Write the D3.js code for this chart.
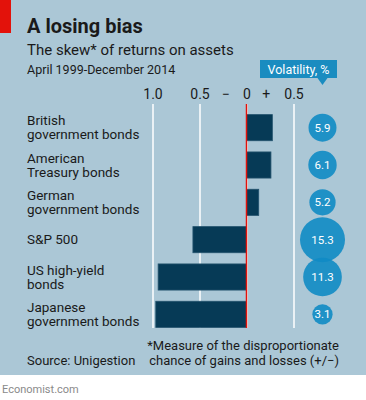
<!DOCTYPE html>
<html>
<head>
<meta charset="utf-8">
<script src="https://cdn.jsdelivr.net/npm/d3@7"></script>
<style>
    body { margin: 0; background: #fff; }
    text { font-family: Roboto, "Noto Sans", sans-serif; fill: #1a1a1a; }
</style>
</head>
<body>
<script>
// data
const assets = [
    ["British", "government bonds"],
    ["American", "Treasury bonds"],
    ["German", "government bonds"],
    ["S&P 500"],
    ["US high-yield", "bonds"],
    ["Japanese", "government bonds"]
];
const skew = [0.275, 0.26, 0.13, -0.57, -0.94, -0.965];
const volatility = [5.9, 6.1, 5.2, 15.3, 11.3, 3.1];
const skewTicks = [-1, -0.5, 0, 0.5];

const svgWidth = 366;
const svgHeight = 400;

const svg = d3.select("body")
    .append("svg")
    .attr("width", svgWidth)
    .attr("height", svgHeight);

// panel
svg.append("rect")
    .attr("width", svgWidth)
    .attr("height", 375)
    .attr("fill", "#abc7d6");
svg.append("rect")
    .attr("width", 11)
    .attr("height", 33)
    .attr("fill", "#e3120b");

// titles
svg.append("text")
    .attr("x", 27).attr("y", 33)
    .attr("font-size", 20).attr("font-weight", "bold")
    .text("A losing bias");
svg.append("text")
    .attr("x", 27).attr("y", 55)
    .attr("font-size", 15)
    .text("The skew* of returns on assets");
svg.append("text")
    .attr("x", 27).attr("y", 74)
    .attr("font-size", 12.5)
    .text("April 1999-December 2014");

// scales
const x = d3.scaleLinear()
    .domain([-1, 0.5])
    .range([152.5, 293.5]);

const y = d3.scaleBand()
    .domain(d3.range(assets.length))
    .range([109, 333])
    .paddingInner(0.3)
    .paddingOuter(0.15);

const r = d3.scaleSqrt()
    .domain([0, d3.max(volatility)])
    .range([0, 22.5]);

const gridTop = 104, gridBottom = 328;

// axis with gridlines
const axis = svg.append("g")
    .attr("transform", `translate(0, ${gridTop})`)
    .call(d3.axisTop(x)
        .tickValues(skewTicks)
        .tickSize(gridTop - gridBottom)
        .tickPadding(5)
        .tickFormat(d => d === 0 ? "0" : d3.format(".1f")(Math.abs(d))));
axis.select(".domain").remove();
axis.selectAll(".tick line")
    .attr("stroke", "#fff")
    .attr("stroke-width", 1.5);
axis.selectAll(".tick text")
    .attr("font-size", 14)
    .attr("font-family", "Roboto, sans-serif")
    .attr("fill", "#1a1a1a");

// sign markers
svg.append("g")
    .selectAll("text")
    .data([["\u2212", -0.22], ["+", 0.21]])
    .join("text")
    .attr("x", d => x(d[1]))
    .attr("y", gridTop - 5)
    .attr("text-anchor", "middle")
    .attr("font-size", 14)
    .text(d => d[0]);

// bars
svg.append("g")
    .selectAll("rect")
    .data(skew)
    .join("rect")
    .attr("x", d => x(Math.min(0, d)))
    .attr("y", (d, i) => y(i))
    .attr("width", d => Math.abs(x(d) - x(0)))
    .attr("height", y.bandwidth())
    .attr("fill", "#063a56")
    .attr("stroke", "#23536e")
    .attr("stroke-width", 0.8);

// zero line
svg.append("line")
    .attr("x1", x(0)).attr("x2", x(0))
    .attr("y1", gridTop).attr("y2", gridBottom)
    .attr("stroke", "#e3120b")
    .attr("stroke-width", 1.5);

// category labels
const labels = svg.append("g")
    .selectAll("text")
    .data(assets)
    .join("text")
    .attr("font-size", 13.5)
    .attr("y", (d, i) => y(i) + y.bandwidth() / 2 + (d.length > 1 ? -2.5 : 4.5));
labels.selectAll("tspan")
    .data(d => d)
    .join("tspan")
    .attr("x", 27)
    .attr("dy", (d, i) => i === 0 ? 0 : 14)
    .text(d => d);

// volatility bubbles
const cx = 322.5;
const bubbles = svg.append("g")
    .selectAll("g")
    .data(volatility)
    .join("g")
    .attr("transform", (d, i) => `translate(${cx}, ${y(i) + y.bandwidth() / 2})`);
bubbles.append("circle")
    .attr("r", d => r(d))
    .attr("fill", "#0f8bc4")
    .attr("fill-opacity", 0.9);
bubbles.append("text")
    .attr("text-anchor", "middle")
    .attr("dy", "0.36em")
    .attr("font-size", 11.5)
    .style("fill", "#fff")
    .text(d => d);

// volatility label box
svg.append("rect")
    .attr("x", 260).attr("y", 60)
    .attr("width", 77).attr("height", 18)
    .attr("fill", "#1a8cc0");
svg.append("path")
    .attr("d", `M${cx - 5},78 L${cx},85 L${cx + 5},78 Z`)
    .attr("fill", "#1a8cc0");
svg.append("text")
    .attr("x", 298.5).attr("y", 73.5)
    .attr("text-anchor", "middle")
    .attr("font-size", 12.5)
    .style("fill", "#fff")
    .text("Volatility, %");

// footer
svg.append("text")
    .attr("x", 27).attr("y", 365)
    .attr("font-size", 13)
    .text("Source: Unigestion");
svg.append("text")
    .attr("x", 339).attr("y", 350)
    .attr("text-anchor", "end")
    .attr("font-size", 13)
    .text("*Measure of the disproportionate");
svg.append("text")
    .attr("x", 339).attr("y", 365)
    .attr("text-anchor", "end")
    .attr("font-size", 13)
    .text("chance of gains and losses (+/\u2212)");
svg.append("text")
    .attr("x", 2).attr("y", 393)
    .attr("font-size", 11)
    .style("fill", "#8a8a8a")
    .text("Economist.com");
</script>
</body>
</html>
